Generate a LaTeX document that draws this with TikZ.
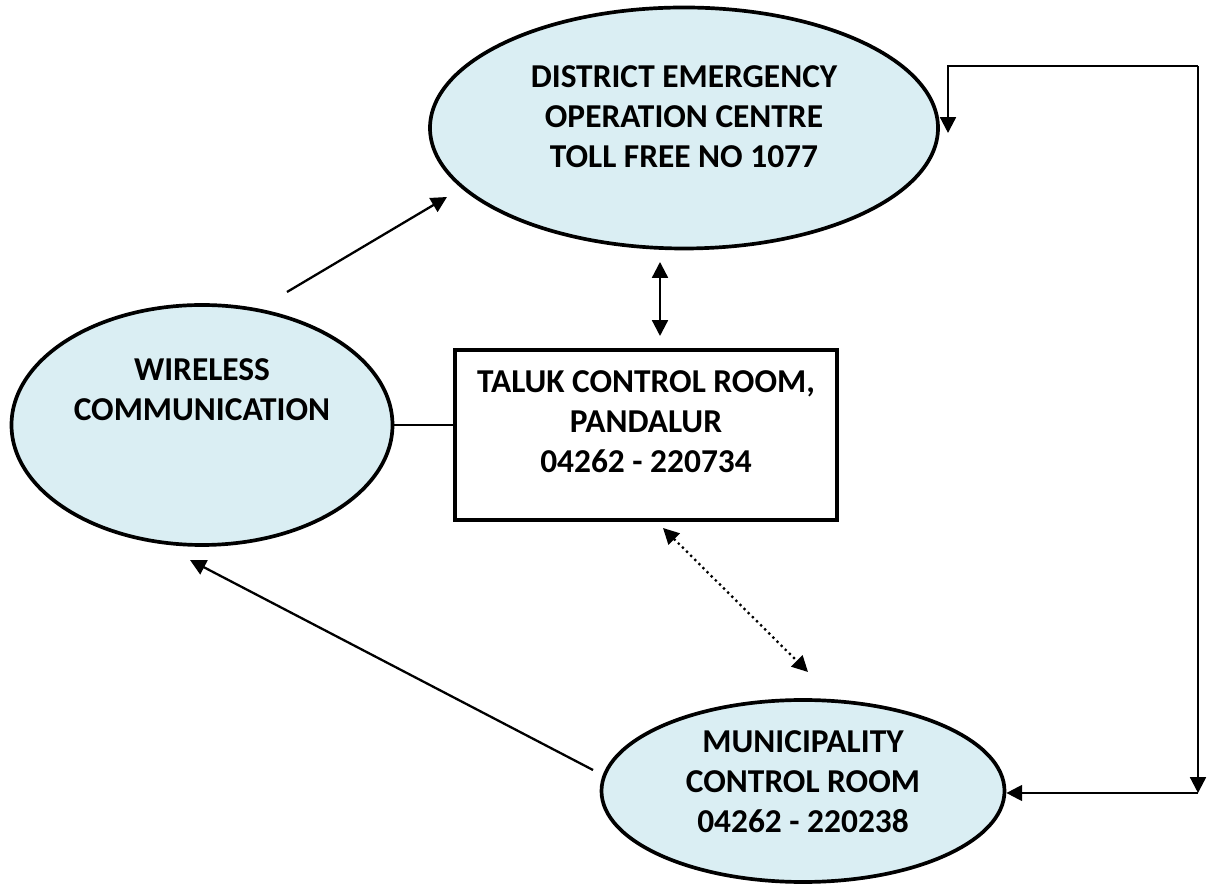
\documentclass[tikz,border=0pt]{standalone}
\usepackage{fontspec}
\setmainfont{Carlito}
\usepackage{xcolor}
\usetikzlibrary{arrows.meta,shapes.geometric}
\definecolor{bubble}{HTML}{DAEEF3}

\begin{document}
\begin{tikzpicture}[
        oval/.style={ellipse, draw=black, line width=2.1pt, fill=bubble, inner sep=0pt},
        label text/.style={align=center, font=\fontsize{19}{22.8}\selectfont\bfseries},
        arr/.style={line width=1.3pt, -{Triangle[length=9pt,width=9pt]}},
        twoway/.style={line width=1.3pt, {Triangle[length=9pt,width=9pt]}-{Triangle[length=9pt,width=9pt]}}
    ]
        \useasboundingbox (0,0) rectangle (24.26,17.7);
        % the four boxes
        \node[oval, minimum width=10.16cm, minimum height=4.82cm] (deoc) at (13.68,15.14) {};
        \node[label text] (deocText) at (13.68,15.36) {DISTRICT EMERGENCY\\OPERATION CENTRE\\TOLL FREE NO 1077};
        \node[oval, minimum width=7.62cm, minimum height=4.8cm] (wl) at (4.04,9.2) {};
        \node[label text] (wlText) at (4.04,9.9) {WIRELESS\\COMMUNICATION};
        \node[oval, minimum width=8.06cm, minimum height=3.64cm] (mr) at (16.06,1.88) {};
        \node[label text] (mrText) at (16.06,2.06) {MUNICIPALITY\\CONTROL ROOM\\04262 - 220238};
        \node[draw=black, line width=2.6pt, minimum width=7.64cm, minimum height=3.4cm] (tl) at (12.92,9.0) {};
        \node[label text] (tlText) at (12.92,9.26) {TALUK CONTROL ROOM,\\PANDALUR\\04262 - 220734};
        % free ends of the connectors
        \coordinate (wOut) at (5.74,11.86);
        \coordinate (dIn) at (8.94,13.76);
        \coordinate (vTop) at (13.2,12.46);
        \coordinate (vBot) at (13.2,10.98);
        \coordinate (dotTop) at (13.26,7.14);
        \coordinate (dotBot) at (16.16,4.26);
        \coordinate (mOut) at (11.86,2.3);
        \coordinate (wIn) at (3.8,6.5);
        \coordinate (rTop) at (23.96,16.38);
        \coordinate (rBot) at (23.96,1.84);
        \coordinate (dRight) at (18.96,15.04);
        % connectors
        \draw[arr] (wOut) -- (dIn);
        \draw[twoway] (vTop) -- (vBot);
        \draw[line width=0.8pt] (wl.east) -- (wl.east -| tl.west);
        \draw[twoway, dotted] (dotTop) -- (dotBot);
        \draw[arr] (mOut) -- (wIn);
        \draw[arr] (rTop) -| (dRight);
        \draw[arr] (rTop) -- (rBot);
        \draw[arr] (rBot) -- (rBot -| mr.east);
    \end{tikzpicture}
\end{document}
